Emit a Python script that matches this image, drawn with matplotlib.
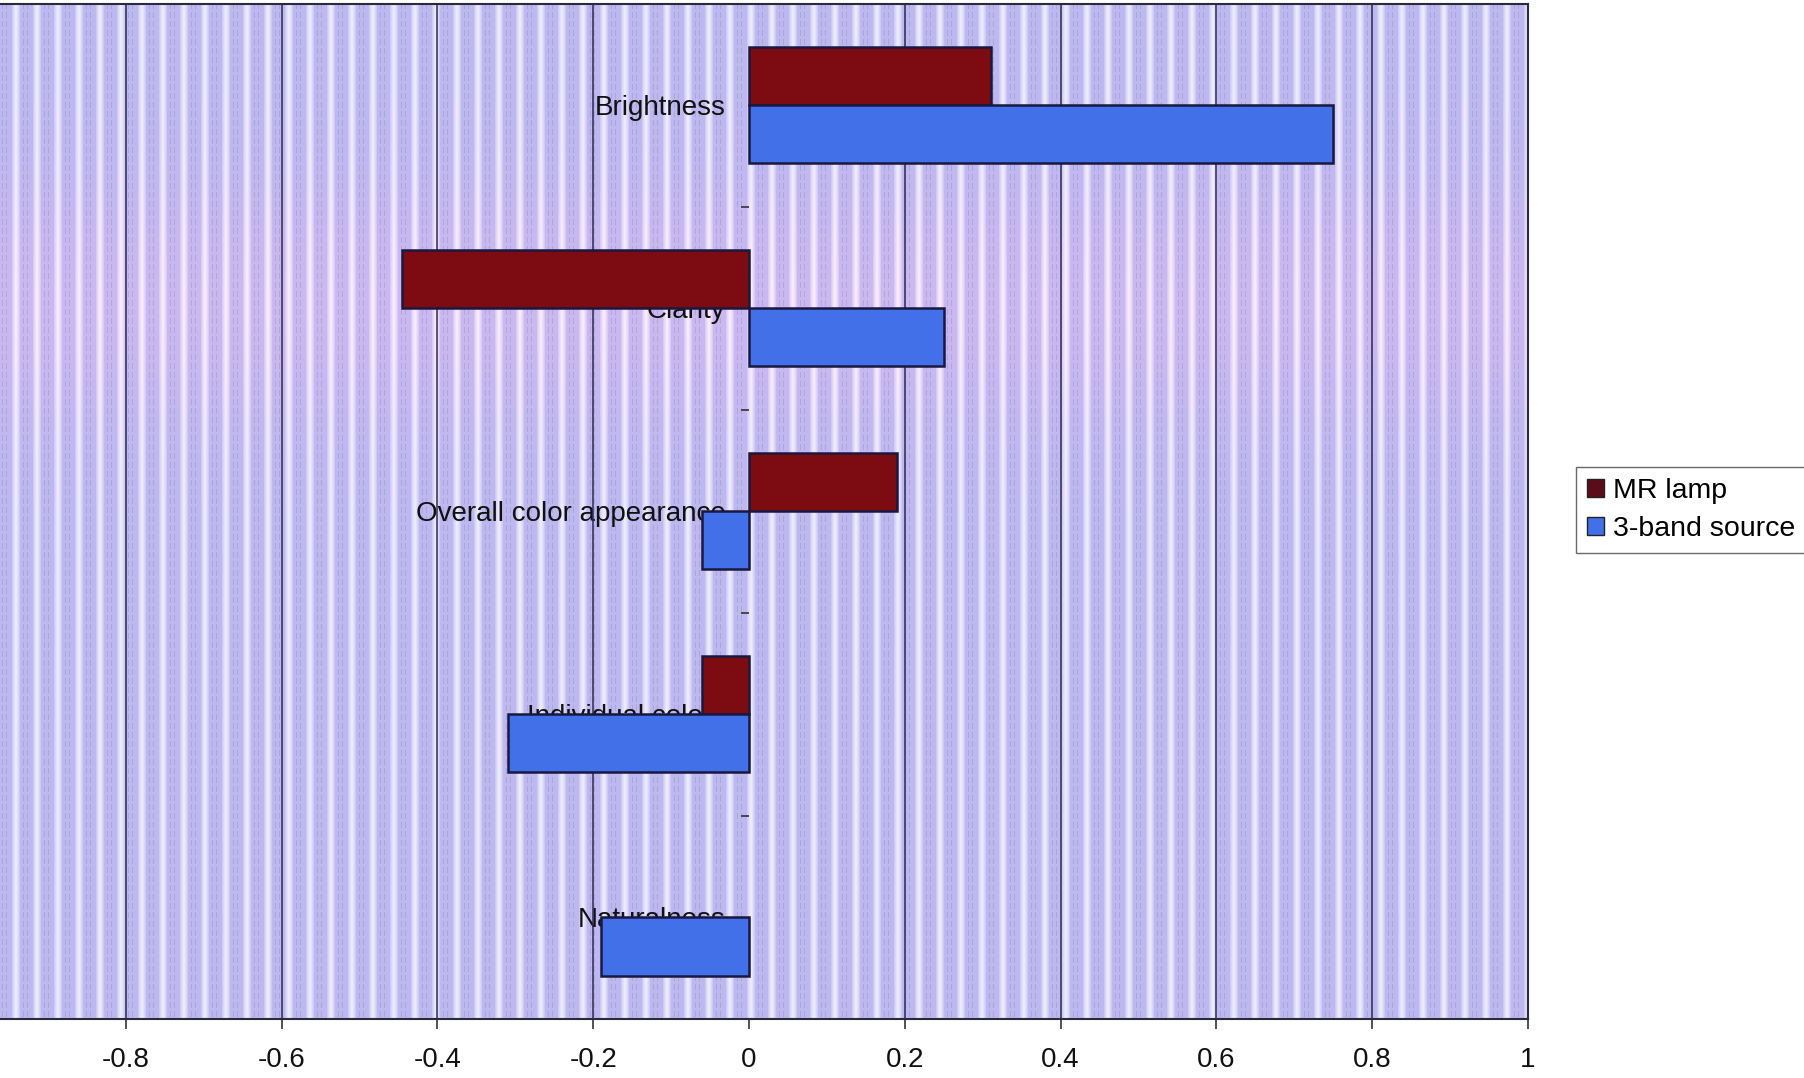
import numpy as np
import matplotlib.pyplot as plt
from matplotlib.patches import Patch

plt.rcParams['font.family'] = ['Liberation Sans', 'DejaVu Sans']

# ratings per attribute, relative to the reference lamp
categories = ["Brightness", "Clarity", "Overall color appearance", "Individual colors", "Naturalness"]
mr_lamp = [0.31, -0.445, 0.19, -0.06, 0.0]
three_band = [0.75, 0.25, -0.06, -0.31, -0.19]
series_names = ["MR lamp", "3-band source"]
xticks = [-0.8, -0.6, -0.4, -0.2, 0, 0.2, 0.4, 0.6, 0.8, 1]

fig = plt.figure(figsize=(18.04, 10.78), dpi=100)
ax = fig.add_axes([-0.0166, 0.0547, 0.8636, 0.942])

# striped plot-area fill (vertical lavender / white bands)
W, H = 1558, 1016
col = np.arange(W) % 21
row = np.arange(H)
lav = np.array([190, 184, 240]) / 255.0
wht = np.array([240, 238, 253]) / 255.0
tex = np.empty((H, W, 3))
band = np.clip(1.0 - np.abs(col - 3.5) / 4.5, 0, 1) ** 0.7
tex[:] = lav + (wht - lav) * band[None, :, None]
dash = ((col == 11) | (col == 15))[None, :] & ((row % 9) < 6)[:, None]
tex[dash] = tex[dash] * 0.9
pink = 0.05 * np.exp(-((row - 300) / 110.0) ** 2)
tex[:, :, 0] += pink[:, None]
tex = np.clip(tex, 0, 1)
ax.imshow(tex, extent=(0, 1, 0, 1), transform=ax.transAxes, aspect='auto',
          zorder=0, interpolation='bilinear')

y = np.arange(len(categories))
h = 1 / 3.5
edge = '#1a1840'
ax.barh(y - h / 2, mr_lamp, height=h, color='#7c0c12',
        edgecolor=[edge if v != 0 else 'none' for v in mr_lamp], linewidth=1.8, zorder=2)
ax.barh(y + h / 2, three_band, height=h, color='#4270e8',
        edgecolor=[edge if v != 0 else 'none' for v in three_band], linewidth=1.8, zorder=2)

ax.set_xlim(-1, 1)
ax.set_ylim(len(categories) - 0.5, -0.5)
ax.set_axisbelow(True)

# gridlines at every major x tick except the zero axis
for v in xticks:
    if v != 0:
        ax.axvline(v, color='#2c2a52', linewidth=1.1, zorder=0.6)

ax.set_xticks(xticks)
ax.set_xticklabels([f"{v:g}" for v in xticks])
ax.tick_params(axis='x', direction='out', length=7, width=1.2, color='#333',
               pad=13, labelsize=20, labelcolor='#111111')

ax.spines['left'].set_position(('data', 0))
ax.spines['left'].set_visible(False)
for s in ['top', 'right', 'bottom']:
    ax.spines[s].set_color('#2a2a3a')
    ax.spines[s].set_linewidth(1.5)

ax.set_yticks(y)
ax.set_yticklabels(categories)
ax.set_yticks(np.arange(len(categories) - 1) + 0.5, minor=True)
ax.tick_params(axis='y', which='major', length=0, pad=17, labelsize=20,
               labelcolor='#111111')
ax.tick_params(axis='y', which='minor', direction='out', length=6, width=1.2,
               color='#333')

handles = [Patch(facecolor='#5a0c18', edgecolor='#222'),
           Patch(facecolor='#4270e8', edgecolor='#222')]
fig.legend(handles, series_names, loc='upper left', bbox_to_anchor=(0.8736, 0.5668),
           fontsize=20.5, frameon=True, fancybox=False, edgecolor='#444',
           borderpad=0.4, handlelength=0.6, handleheight=0.6, handletextpad=0.3,
           labelspacing=0.4, borderaxespad=0)

fig.savefig("out.png", dpi=100)
